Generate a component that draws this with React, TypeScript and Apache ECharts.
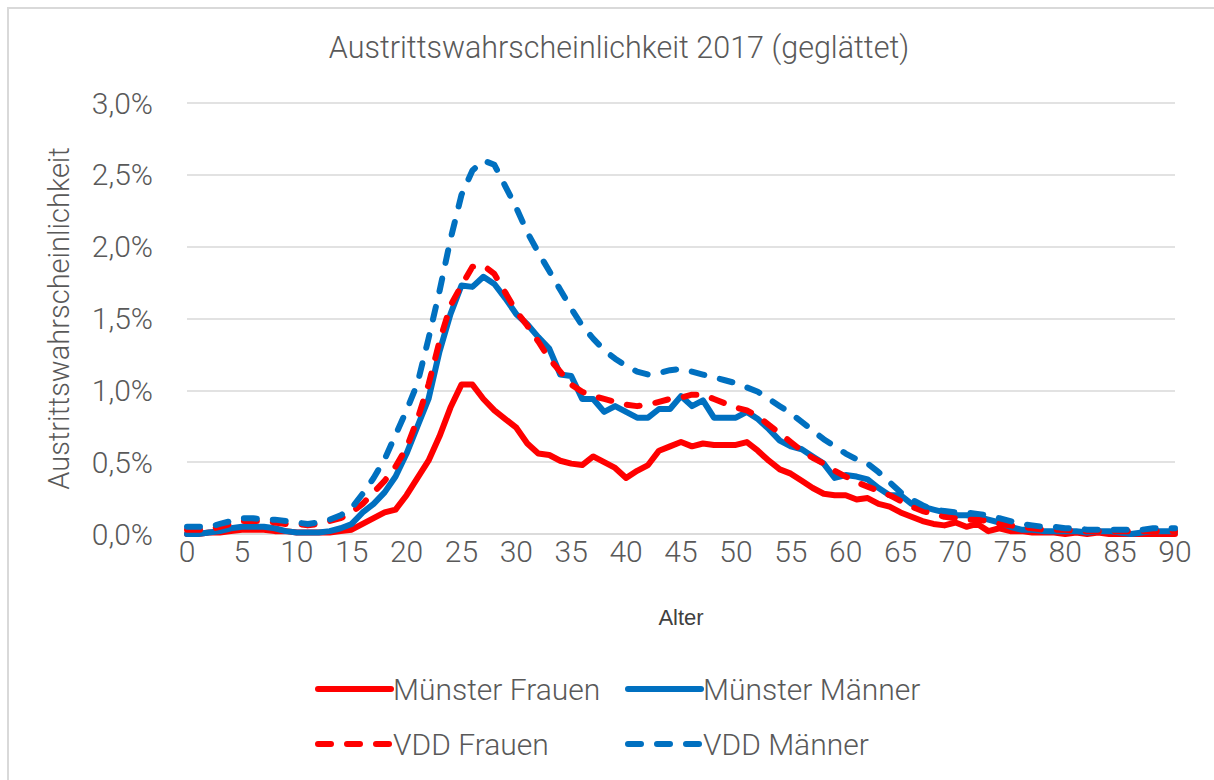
import React, { useEffect, useRef } from "react";
import * as echarts from "echarts";

const ages: string[] = Array.from({ length: 91 }, (_, i) => String(i));

const muensterFrauen = [
  0.0, 0.0, 0.01, 0.01, 0.02, 0.03, 0.03, 0.03, 0.02, 0.02,
  0.01, 0.01, 0.01, 0.01, 0.02, 0.03, 0.07, 0.11, 0.15, 0.17,
  0.27, 0.39, 0.51, 0.68, 0.88, 1.04, 1.04, 0.94, 0.86, 0.8,
  0.74, 0.63, 0.56, 0.55, 0.51, 0.49, 0.48, 0.54, 0.5, 0.46,
  0.39, 0.44, 0.48, 0.58, 0.61, 0.64, 0.61, 0.63, 0.62, 0.62,
  0.62, 0.64, 0.58, 0.51, 0.45, 0.42, 0.37, 0.32, 0.28, 0.27,
  0.27, 0.24, 0.25, 0.21, 0.19, 0.15, 0.12, 0.09, 0.07, 0.06,
  0.08, 0.05, 0.07, 0.02, 0.04, 0.02, 0.02, 0.01, 0.01, 0.01,
  0.0, 0.01, 0.0, 0.01, 0.0, 0.0, 0.0, 0.0, 0.0, 0.0, 0.0,
];

const muensterMaenner = [
  0.0, 0.0, 0.01, 0.02, 0.04, 0.05, 0.05, 0.05, 0.04, 0.02,
  0.01, 0.01, 0.01, 0.02, 0.04, 0.07, 0.15, 0.21, 0.29, 0.4,
  0.56, 0.75, 0.94, 1.27, 1.53, 1.73, 1.72, 1.79, 1.74, 1.64,
  1.53, 1.46, 1.37, 1.29, 1.11, 1.1, 0.94, 0.94, 0.85, 0.89,
  0.85, 0.81, 0.81, 0.87, 0.87, 0.96, 0.89, 0.93, 0.81, 0.81,
  0.81, 0.85, 0.8, 0.73, 0.65, 0.61, 0.59, 0.54, 0.49, 0.39,
  0.41, 0.4, 0.38, 0.32, 0.27, 0.27, 0.21, 0.19, 0.17, 0.15,
  0.13, 0.13, 0.12, 0.1, 0.08, 0.05, 0.03, 0.03, 0.02, 0.02,
  0.02, 0.02, 0.01, 0.02, 0.02, 0.01, 0.0, 0.01, 0.02, 0.02, 0.02,
];

const vddFrauen = [
  0.03, 0.03, 0.03, 0.05, 0.07, 0.09, 0.09, 0.09, 0.08, 0.07,
  0.07, 0.06, 0.07, 0.09, 0.11, 0.15, 0.21, 0.29, 0.37, 0.47,
  0.6, 0.8, 1.04, 1.34, 1.59, 1.73, 1.86, 1.87, 1.81, 1.68,
  1.55, 1.45, 1.34, 1.22, 1.13, 1.04, 0.99, 0.96, 0.94, 0.92,
  0.9, 0.89, 0.9, 0.92, 0.94, 0.95, 0.97, 0.97, 0.94, 0.91,
  0.88, 0.86, 0.82, 0.76, 0.7, 0.64, 0.58, 0.53, 0.49, 0.44,
  0.4, 0.36, 0.33, 0.3, 0.27, 0.23, 0.19, 0.16, 0.14, 0.12,
  0.11, 0.1, 0.1, 0.09, 0.07, 0.06, 0.05, 0.04, 0.03, 0.03,
  0.03, 0.02, 0.02, 0.02, 0.02, 0.02, 0.02, 0.02, 0.02, 0.02, 0.02,
];

const vddMaenner = [
  0.05, 0.05, 0.05, 0.07, 0.09, 0.11, 0.11, 0.1, 0.1, 0.09,
  0.08, 0.07, 0.08, 0.1, 0.13, 0.18, 0.28, 0.39, 0.52, 0.69,
  0.86, 1.05, 1.36, 1.69, 2.05, 2.36, 2.53, 2.6, 2.57, 2.42,
  2.27, 2.1, 1.96, 1.83, 1.7, 1.57, 1.45, 1.36, 1.28, 1.22,
  1.17, 1.13, 1.11, 1.12, 1.14, 1.15, 1.13, 1.11, 1.09, 1.07,
  1.05, 1.02, 0.99, 0.94, 0.89, 0.84, 0.78, 0.72, 0.66, 0.61,
  0.56, 0.52, 0.49, 0.43, 0.36, 0.29, 0.24, 0.2, 0.17, 0.16,
  0.15, 0.15, 0.14, 0.13, 0.11, 0.09, 0.07, 0.06, 0.05, 0.05,
  0.04, 0.04, 0.03, 0.03, 0.03, 0.03, 0.03, 0.03, 0.04, 0.04, 0.04,
];

const seriesNames = ["Münster Frauen", "Münster Männer", "VDD Frauen", "VDD Männer"];

const RED = "#FF0000";
const BLUE = "#0070C0";
const TXT = "#595959";
const FONT = "Roboto, 'Liberation Sans', sans-serif";

export default function App() {
  const ref = useRef<HTMLDivElement>(null);

  useEffect(() => {
    if (!ref.current) return;
    const chart = echarts.init(ref.current, undefined, { renderer: "svg" });

    const mk = (name: string, data: number[], color: string, dashed: boolean) => ({
      name,
      type: "line",
      data,
      symbol: "none",
      smooth: false,
      lineStyle: {
        color,
        width: 6,
        type: dashed ? [13, 16] : "solid",
        cap: "round",
        join: "round",
      },
      itemStyle: { color },
      z: dashed ? 3 : 2,
    });

    const legendBase = {
      orient: "vertical",
      top: 672,
      padding: 0,
      itemWidth: 73,
      itemHeight: 14,
      itemGap: 21,
      itemStyle: { opacity: 0 },
      lineStyle: { width: 6, cap: "round" },
      textStyle: { fontFamily: FONT, fontSize: 30, fontWeight: 300, color: TXT, lineHeight: 34, padding: [0, 0, 0, -3] },
    };

    chart.setOption({
      animation: false,
      backgroundColor: "#ffffff",
      textStyle: { fontFamily: FONT },
      graphic: [
        {
          type: "rect",
          shape: { x: 8, y: 8, width: 1230, height: 800 },
          style: { fill: "none", stroke: "#d9d9d9", lineWidth: 2 },
          silent: true,
        },
      ],
      title: {
        text: "Austrittswahrscheinlichkeit 2017 (geglättet)",
        left: 614,
        textAlign: "center",
        top: 27,
        textStyle: { fontFamily: FONT, fontSize: 30.5, fontWeight: 300, color: TXT },
      },
      grid: { left: 187, right: 39, top: 103, bottom: 246, containLabel: false },
      xAxis: {
        type: "category",
        data: ages,
        boundaryGap: false,
        name: "Alter",
        nameLocation: "middle",
        nameGap: 72,
        nameTextStyle: { fontFamily: "'Liberation Sans', Arial, sans-serif", fontSize: 22, color: "#404040" },
        axisLine: { show: true, lineStyle: { color: "#d9d9d9", width: 1.5 } },
        axisTick: { show: false },
        axisLabel: { interval: 4, fontFamily: FONT, fontSize: 30, fontWeight: 300, color: TXT, margin: 2 },
        splitLine: { show: false },
      },
      yAxis: {
        type: "value",
        min: 0,
        max: 3,
        interval: 0.5,
        name: "Austrittswahrscheinlichkeit",
        nameLocation: "middle",
        nameRotate: 90,
        nameGap: 114,
        nameTextStyle: { fontFamily: FONT, fontSize: 29, fontWeight: 300, color: TXT },
        axisLine: { show: false },
        axisTick: { show: false },
        axisLabel: {
          fontFamily: FONT,
          fontSize: 30,
          fontWeight: 300,
          color: TXT,
          margin: 34,
          formatter: (v: number) => v.toFixed(1).replace(".", ",") + "%",
        },
        splitLine: { lineStyle: { color: "#d9d9d9", width: 1.5 } },
      },
      legend: [
        { ...legendBase, data: [seriesNames[0], seriesNames[2]], left: 315 },
        { ...legendBase, data: [seriesNames[1], seriesNames[3]], left: 625 },
      ],
      series: [
        mk(seriesNames[0], muensterFrauen, RED, false),
        mk(seriesNames[1], muensterMaenner, BLUE, false),
        mk(seriesNames[2], vddFrauen, RED, true),
        mk(seriesNames[3], vddMaenner, BLUE, true),
      ],
    });

    return () => chart.dispose();
  }, []);

  return (
    <div
      ref={ref}
      style={{ position: "absolute", left: 0, top: 0, width: 1214, height: 780 }}
    />
  );
}
